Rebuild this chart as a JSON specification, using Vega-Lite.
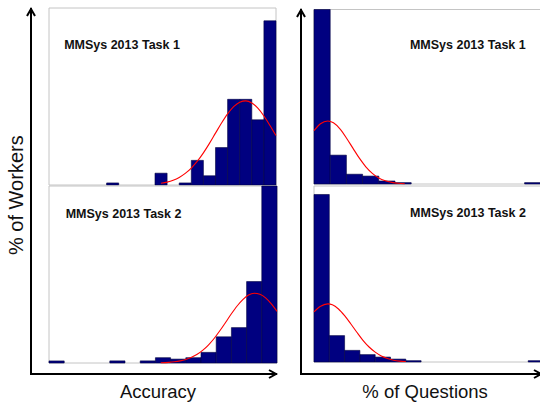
{
  "$schema": "https://vega.github.io/schema/vega-lite/v6.json",
  "width": 540,
  "height": 402,
  "autosize": "none",
  "padding": 0,
  "config": {"view": {"stroke": null}, "font": "Liberation Sans", "axis": {"disable": true}},
  "datasets": {
    "one": [{}],
    "tl_bars": [
      {"x0": 0.30, "x1": 0.35, "pct": 0.4},
      {"x0": 0.50, "x1": 0.55, "pct": 2.3},
      {"x0": 0.60, "x1": 0.65, "pct": 0.4},
      {"x0": 0.65, "x1": 0.70, "pct": 4.8},
      {"x0": 0.70, "x1": 0.75, "pct": 1.8},
      {"x0": 0.75, "x1": 0.80, "pct": 7.3},
      {"x0": 0.80, "x1": 0.85, "pct": 16.7},
      {"x0": 0.85, "x1": 0.90, "pct": 16.7},
      {"x0": 0.90, "x1": 0.95, "pct": 12.7},
      {"x0": 0.95, "x1": 1.00, "pct": 32.0}
    ],
    "tl_fit": [
      {"a": 0.525, "pct": 0.33}, {"a": 0.55, "pct": 0.56}, {"a": 0.575, "pct": 0.93},
      {"a": 0.60, "pct": 1.48}, {"a": 0.625, "pct": 2.26}, {"a": 0.65, "pct": 3.30},
      {"a": 0.675, "pct": 4.64}, {"a": 0.70, "pct": 6.27}, {"a": 0.725, "pct": 8.12},
      {"a": 0.75, "pct": 10.11}, {"a": 0.775, "pct": 12.08}, {"a": 0.80, "pct": 13.86},
      {"a": 0.825, "pct": 15.26}, {"a": 0.85, "pct": 16.14}, {"a": 0.875, "pct": 16.40},
      {"a": 0.90, "pct": 15.99}, {"a": 0.925, "pct": 14.97}, {"a": 0.95, "pct": 13.46},
      {"a": 0.975, "pct": 11.61}, {"a": 1.0, "pct": 9.63}
    ],
    "bl_bars": [
      {"x0": 0.0, "x1": 0.0667, "pct": 0.6},
      {"x0": 0.2667, "x1": 0.3333, "pct": 0.6},
      {"x0": 0.4, "x1": 0.4667, "pct": 0.6},
      {"x0": 0.4667, "x1": 0.5333, "pct": 1.5},
      {"x0": 0.5333, "x1": 0.6, "pct": 1.1},
      {"x0": 0.6, "x1": 0.6667, "pct": 1.5},
      {"x0": 0.6667, "x1": 0.7333, "pct": 3.0},
      {"x0": 0.7333, "x1": 0.8, "pct": 7.4},
      {"x0": 0.8, "x1": 0.8667, "pct": 10.0},
      {"x0": 0.8667, "x1": 0.9333, "pct": 23.0},
      {"x0": 0.9333, "x1": 1.0, "pct": 50.0}
    ],
    "bl_fit": [
      {"a": 0.49, "pct": 0.08}, {"a": 0.525, "pct": 0.19}, {"a": 0.55, "pct": 0.35},
      {"a": 0.575, "pct": 0.60}, {"a": 0.60, "pct": 1.00}, {"a": 0.625, "pct": 1.60},
      {"a": 0.65, "pct": 2.46}, {"a": 0.675, "pct": 3.63}, {"a": 0.70, "pct": 5.15},
      {"a": 0.725, "pct": 7.0}, {"a": 0.75, "pct": 9.17}, {"a": 0.775, "pct": 11.52},
      {"a": 0.80, "pct": 13.9}, {"a": 0.825, "pct": 16.1}, {"a": 0.85, "pct": 17.9},
      {"a": 0.875, "pct": 19.2}, {"a": 0.90, "pct": 19.7}, {"a": 0.925, "pct": 19.4},
      {"a": 0.95, "pct": 18.4}, {"a": 0.975, "pct": 16.7}, {"a": 1.0, "pct": 14.6}
    ],
    "tr_bars": [
      {"x0": 0, "x1": 5, "pct": 75},
      {"x0": 5, "x1": 10, "pct": 12.4},
      {"x0": 10, "x1": 15, "pct": 4.2},
      {"x0": 15, "x1": 20, "pct": 3.4},
      {"x0": 20, "x1": 25, "pct": 1.3},
      {"x0": 25, "x1": 30, "pct": 0.6},
      {"x0": 65, "x1": 70, "pct": 0.6}
    ],
    "tr_fit": [
      {"q": 0, "pct": 22.9}, {"q": 2, "pct": 25.9}, {"q": 4.25, "pct": 27.1},
      {"q": 6, "pct": 26.3}, {"q": 8, "pct": 23.7}, {"q": 10, "pct": 19.8},
      {"q": 12, "pct": 15.4}, {"q": 14, "pct": 11.1}, {"q": 16, "pct": 7.4},
      {"q": 18, "pct": 4.6}, {"q": 20, "pct": 2.6}, {"q": 22, "pct": 1.4},
      {"q": 24, "pct": 0.7}, {"q": 26, "pct": 0.3}, {"q": 28, "pct": 0.1}
    ],
    "br_bars": [
      {"x0": 0, "x1": 5, "pct": 74.9},
      {"x0": 5, "x1": 10, "pct": 11.8},
      {"x0": 10, "x1": 15, "pct": 5.2},
      {"x0": 15, "x1": 20, "pct": 3.3},
      {"x0": 20, "x1": 25, "pct": 2.2},
      {"x0": 25, "x1": 30, "pct": 1.3},
      {"x0": 30, "x1": 35, "pct": 0.6},
      {"x0": 70, "x1": 75, "pct": 0.6}
    ],
    "br_fit": [
      {"q": 0, "pct": 22.4}, {"q": 2, "pct": 24.8}, {"q": 4.5, "pct": 26.0},
      {"q": 6, "pct": 25.6}, {"q": 8, "pct": 23.7}, {"q": 10, "pct": 20.7},
      {"q": 12, "pct": 17.1}, {"q": 14, "pct": 13.3}, {"q": 16, "pct": 9.7},
      {"q": 18, "pct": 6.7}, {"q": 20, "pct": 4.4}, {"q": 22, "pct": 2.7},
      {"q": 24, "pct": 1.6}, {"q": 26, "pct": 0.8}, {"q": 28, "pct": 0.4},
      {"q": 30, "pct": 0.2}
    ]
  },
  "resolve": {"scale": {"x": "independent", "y": "independent"}},
  "layer": [
    {
      "layer": [
        {
          "data": {"name": "one"},
          "mark": {"type": "rect", "fillOpacity": 0, "stroke": "#c4c4c4", "strokeWidth": 1},
          "encoding": {
            "x": {"datum": 0.062, "type": "quantitative", "scale": {"domain": [0.062, 1.0], "range": [49, 276], "nice": false, "zero": false}},
            "x2": {"datum": 1.0},
            "y": {"datum": 0, "type": "quantitative", "scale": {"domain": [0, 34.5], "range": [185, 8], "nice": false, "zero": false}},
            "y2": {"datum": 34.5}
          }
        },
        {
          "data": {"name": "tl_bars"},
          "mark": {"type": "rect", "color": "#000080", "stroke": "#000040", "strokeWidth": 0.6},
          "encoding": {
            "x": {"field": "x0", "type": "quantitative"},
            "x2": {"field": "x1"},
            "y": {"field": "pct", "type": "quantitative"},
            "y2": {"datum": 0}
          }
        },
        {
          "data": {"name": "tl_fit"},
          "mark": {"type": "line", "color": "#ff0000", "strokeWidth": 1.1, "interpolate": "monotone"},
          "encoding": {
            "x": {"field": "a", "type": "quantitative"},
            "y": {"field": "pct", "type": "quantitative"}
          }
        },
        {
          "data": {"name": "one"},
          "mark": {"type": "text", "text": "MMSys 2013 Task 1", "align": "left", "baseline": "middle", "fontSize": 12.5, "fontWeight": "bold", "color": "#111111"},
          "encoding": {
            "x": {"datum": 0.1245, "type": "quantitative"},
            "y": {"datum": 27.2, "type": "quantitative"}
          }
        }
      ]
    },
    {
      "layer": [
        {
          "data": {"name": "one"},
          "mark": {"type": "rect", "fillOpacity": 0, "stroke": "#c4c4c4", "strokeWidth": 1},
          "encoding": {
            "x": {"datum": 0, "type": "quantitative", "scale": {"domain": [0, 1], "range": [49, 277], "nice": false, "zero": false}},
            "x2": {"datum": 1},
            "y": {"datum": 0, "type": "quantitative", "scale": {"domain": [0, 50], "range": [363, 186], "nice": false, "zero": false}},
            "y2": {"datum": 50}
          }
        },
        {
          "data": {"name": "bl_bars"},
          "mark": {"type": "rect", "color": "#000080", "stroke": "#000040", "strokeWidth": 0.6},
          "encoding": {
            "x": {"field": "x0", "type": "quantitative"},
            "x2": {"field": "x1"},
            "y": {"field": "pct", "type": "quantitative"},
            "y2": {"datum": 0}
          }
        },
        {
          "data": {"name": "bl_fit"},
          "mark": {"type": "line", "color": "#ff0000", "strokeWidth": 1.1, "interpolate": "monotone"},
          "encoding": {
            "x": {"field": "a", "type": "quantitative"},
            "y": {"field": "pct", "type": "quantitative"}
          }
        },
        {
          "data": {"name": "one"},
          "mark": {"type": "text", "text": "MMSys 2013 Task 2", "align": "left", "baseline": "middle", "fontSize": 12.5, "fontWeight": "bold", "color": "#111111"},
          "encoding": {
            "x": {"datum": 0.073, "type": "quantitative"},
            "y": {"datum": 42.0, "type": "quantitative"}
          }
        }
      ]
    },
    {
      "layer": [
        {
          "data": {"name": "one"},
          "mark": {"type": "rect", "fillOpacity": 0, "stroke": "#c4c4c4", "strokeWidth": 1},
          "encoding": {
            "x": {"datum": 0, "type": "quantitative", "scale": {"domain": [0, 70], "range": [314, 540.8], "nice": false, "zero": false}},
            "x2": {"datum": 70},
            "y": {"datum": 0, "type": "quantitative", "scale": {"domain": [0, 75], "range": [184, 9.5], "nice": false, "zero": false}},
            "y2": {"datum": 75}
          }
        },
        {
          "data": {"name": "tr_bars"},
          "mark": {"type": "rect", "color": "#000080", "stroke": "#000040", "strokeWidth": 0.6},
          "encoding": {
            "x": {"field": "x0", "type": "quantitative"},
            "x2": {"field": "x1"},
            "y": {"field": "pct", "type": "quantitative"},
            "y2": {"datum": 0}
          }
        },
        {
          "data": {"name": "tr_fit"},
          "mark": {"type": "line", "color": "#ff0000", "strokeWidth": 1.1, "interpolate": "monotone"},
          "encoding": {
            "x": {"field": "q", "type": "quantitative"},
            "y": {"field": "pct", "type": "quantitative"}
          }
        },
        {
          "data": {"name": "one"},
          "mark": {"type": "text", "text": "MMSys 2013 Task 1", "align": "left", "baseline": "middle", "fontSize": 12.5, "fontWeight": "bold", "color": "#111111"},
          "encoding": {
            "x": {"datum": 29.6, "type": "quantitative"},
            "y": {"datum": 59.6, "type": "quantitative"}
          }
        }
      ]
    },
    {
      "layer": [
        {
          "data": {"name": "one"},
          "mark": {"type": "rect", "fillOpacity": 0, "stroke": "#c4c4c4", "strokeWidth": 1},
          "encoding": {
            "x": {"datum": 0, "type": "quantitative", "scale": {"domain": [0, 75], "range": [314, 543.5], "nice": false, "zero": false}},
            "x2": {"datum": 75},
            "y": {"datum": 0, "type": "quantitative", "scale": {"domain": [0, 78.7], "range": [362, 186], "nice": false, "zero": false}},
            "y2": {"datum": 78.7}
          }
        },
        {
          "data": {"name": "br_bars"},
          "mark": {"type": "rect", "color": "#000080", "stroke": "#000040", "strokeWidth": 0.6},
          "encoding": {
            "x": {"field": "x0", "type": "quantitative"},
            "x2": {"field": "x1"},
            "y": {"field": "pct", "type": "quantitative"},
            "y2": {"datum": 0}
          }
        },
        {
          "data": {"name": "br_fit"},
          "mark": {"type": "line", "color": "#ff0000", "strokeWidth": 1.1, "interpolate": "monotone"},
          "encoding": {
            "x": {"field": "q", "type": "quantitative"},
            "y": {"field": "pct", "type": "quantitative"}
          }
        },
        {
          "data": {"name": "one"},
          "mark": {"type": "text", "text": "MMSys 2013 Task 2", "align": "left", "baseline": "middle", "fontSize": 12.5, "fontWeight": "bold", "color": "#111111"},
          "encoding": {
            "x": {"datum": 31.4, "type": "quantitative"},
            "y": {"datum": 66.5, "type": "quantitative"}
          }
        }
      ]
    },
    {
      "data": {"name": "one"},
      "layer": [
        {
          "mark": {"type": "rule", "color": "#000000", "strokeWidth": 2, "strokeCap": "square"},
          "encoding": {
            "x": {"datum": 0, "type": "quantitative", "scale": {"domain": [0, 1], "range": [31, 276], "nice": false, "zero": false}},
            "x2": {"datum": 1},
            "y": {"datum": 0, "type": "quantitative", "scale": {"domain": [0, 1], "range": [374, 9], "nice": false, "zero": false}}
          }
        },
        {
          "mark": {"type": "rule", "color": "#000000", "strokeWidth": 2, "strokeCap": "square"},
          "encoding": {
            "x": {"datum": 0, "type": "quantitative"},
            "y": {"datum": 0, "type": "quantitative"},
            "y2": {"datum": 1}
          }
        },
        {
          "mark": {"type": "point", "shape": "M-1.75,-1L0,0L-1.75,1", "size": 64, "filled": false, "stroke": "#000000", "strokeWidth": 2, "opacity": 1},
          "encoding": {
            "x": {"datum": 1, "type": "quantitative"},
            "y": {"datum": 0, "type": "quantitative"}
          }
        },
        {
          "mark": {"type": "point", "shape": "M-1,1.75L0,0L1,1.75", "size": 64, "filled": false, "stroke": "#000000", "strokeWidth": 2, "opacity": 1},
          "encoding": {
            "x": {"datum": 0, "type": "quantitative"},
            "y": {"datum": 1, "type": "quantitative"}
          }
        },
        {
          "mark": {"type": "text", "text": "Accuracy", "align": "center", "baseline": "middle", "fontSize": 18.5, "color": "#111111"},
          "encoding": {
            "x": {"datum": 0.518, "type": "quantitative"},
            "y": {"datum": -0.05, "type": "quantitative"}
          }
        },
        {
          "mark": {"type": "text", "text": "% of Workers", "align": "center", "baseline": "middle", "angle": 270, "fontSize": 20, "color": "#111111"},
          "encoding": {
            "x": {"datum": -0.057, "type": "quantitative"},
            "y": {"datum": 0.49, "type": "quantitative"}
          }
        }
      ]
    },
    {
      "data": {"name": "one"},
      "layer": [
        {
          "mark": {"type": "rule", "color": "#000000", "strokeWidth": 2, "strokeCap": "square"},
          "encoding": {
            "x": {"datum": 0, "type": "quantitative", "scale": {"domain": [0, 1], "range": [301, 541], "nice": false, "zero": false}},
            "x2": {"datum": 1},
            "y": {"datum": 0, "type": "quantitative", "scale": {"domain": [0, 1], "range": [374, 10], "nice": false, "zero": false}}
          }
        },
        {
          "mark": {"type": "rule", "color": "#000000", "strokeWidth": 2, "strokeCap": "square"},
          "encoding": {
            "x": {"datum": 0, "type": "quantitative"},
            "y": {"datum": 0, "type": "quantitative"},
            "y2": {"datum": 1}
          }
        },
        {
          "mark": {"type": "point", "shape": "M-1.75,-1L0,0L-1.75,1", "size": 64, "filled": false, "stroke": "#000000", "strokeWidth": 2, "opacity": 1},
          "encoding": {
            "x": {"datum": 1, "type": "quantitative"},
            "y": {"datum": 0, "type": "quantitative"}
          }
        },
        {
          "mark": {"type": "point", "shape": "M-1,1.75L0,0L1,1.75", "size": 64, "filled": false, "stroke": "#000000", "strokeWidth": 2, "opacity": 1},
          "encoding": {
            "x": {"datum": 0, "type": "quantitative"},
            "y": {"datum": 1, "type": "quantitative"}
          }
        },
        {
          "mark": {"type": "text", "text": "% of Questions", "align": "center", "baseline": "middle", "fontSize": 18.5, "color": "#111111"},
          "encoding": {
            "x": {"datum": 0.517, "type": "quantitative"},
            "y": {"datum": -0.05, "type": "quantitative"}
          }
        }
      ]
    }
  ]
}
